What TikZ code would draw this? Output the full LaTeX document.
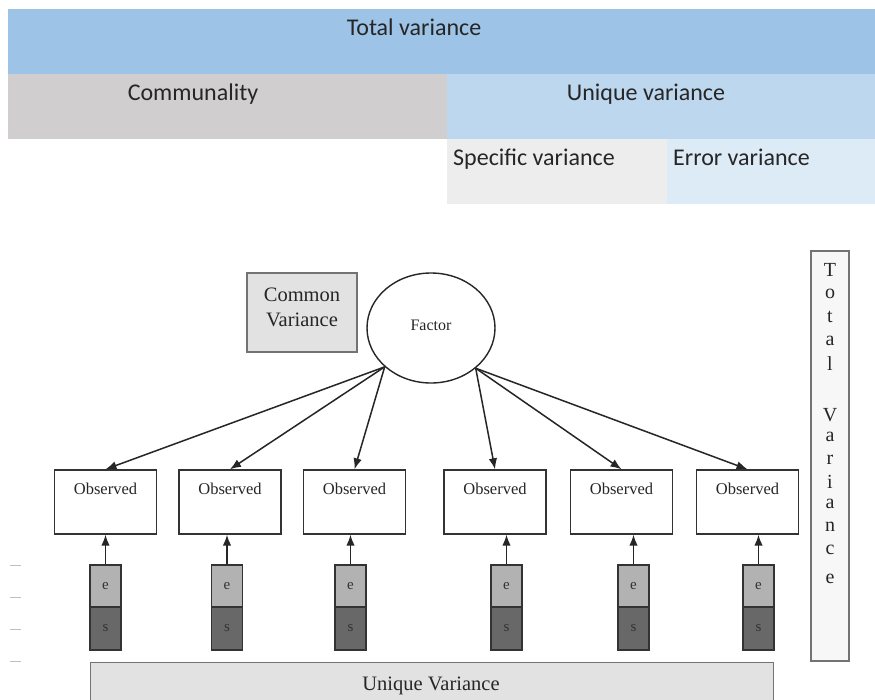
\documentclass[tikz,border=0pt]{standalone}
\usepackage{fontspec}
\setmainfont{Liberation Serif}
\newfontfamily\calfont{Carlito}
\usetikzlibrary{arrows.meta,shapes.geometric}
\definecolor{ctotal}{HTML}{9DC3E6}
\definecolor{ccomm}{HTML}{D0CECE}
\definecolor{cuniq}{HTML}{BDD7EE}
\definecolor{cspec}{HTML}{EDEDED}
\definecolor{cerr}{HTML}{DDEBF7}
\definecolor{cbox}{HTML}{E2E2E2}
\definecolor{cedge}{HTML}{333333}
\definecolor{ce}{HTML}{B2B2B2}
\definecolor{cs}{HTML}{686868}
\tikzset{
  cell/.style={draw=none, inner sep=0pt, anchor=north west},
  celltext/.style={font=\calfont\fontsize{24}{28}\selectfont, text=black!85, anchor=base, inner sep=0pt},
  obsbox/.style={draw=cedge, line width=1.4pt, fill=white, minimum width=102pt, minimum height=64pt, inner sep=0pt},
  obstext/.style={font=\fontsize{16.5}{19}\selectfont, text=black!85, anchor=base, inner sep=0pt},
  ebox/.style={draw=cedge, line width=1.3pt, fill=ce, minimum width=31pt, minimum height=42pt, inner sep=0pt, font=\fontsize{15}{16}\selectfont, text=black!80},
  sbox/.style={draw=cedge, line width=1.3pt, fill=cs, minimum width=31pt, minimum height=43pt, inner sep=0pt, font=\fontsize{15}{16}\selectfont, text=black!80},
  arr/.style={-{Latex[length=11pt,width=8.5pt]}, line width=1.5pt, draw=black!85},
  grayedge/.style={draw=black!55, line width=1.3pt},
  vletter/.style={font=\fontsize{20}{22}\selectfont, text=black!85, inner sep=0pt},
  tick/.style={draw=black!25, line width=1pt}
}
\begin{document}
\begin{tikzpicture}[x=1pt,y=-1pt]
\useasboundingbox (0,0) rectangle (875,699);
\clip (0,0) rectangle (875,699);
\fill[white] (0,0) rectangle (875,699);
% ---- top table
\node[cell, fill=ctotal, minimum width=867pt, minimum height=65pt] (tv) at (8,9) {};
\node[cell, fill=ccomm, minimum width=439pt, minimum height=65pt] (com) at (8,74) {};
\node[cell, fill=cuniq, minimum width=428pt, minimum height=65pt] (uv) at (447,74) {};
\node[cell, fill=cspec, minimum width=220pt, minimum height=65pt] (sv) at (447,139) {};
\node[cell, fill=cerr, minimum width=208pt, minimum height=65pt] (ev) at (667,139) {};
\node[celltext] (tvt) at (414,35) {Total variance};
\node[celltext] (comt) at (193,100) {Communality};
\node[celltext] (uvt) at (646,100) {Unique variance};
\node[celltext, anchor=base west] (svt) at (453,165) {Specific variance};
\node[celltext, anchor=base west] (evt) at (673,165) {Error variance};
% ---- common variance and factor
\node[grayedge, fill=cbox, minimum width=110pt, minimum height=79pt, inner sep=0pt] (cv) at (302,312.5) {};
\node[align=center, inner sep=0pt, font=\fontsize{20.5}{25}\selectfont, text=black!85] (cvt) at (302,307) {Common\\Variance};
\node[ellipse, draw=black!85, line width=1.4pt, fill=white, minimum width=128pt, minimum height=110pt, inner sep=0pt,
      font=\fontsize{16}{18}\selectfont, text=black!85] (f) at (431,328) {\raisebox{6pt}{Factor}};
% ---- total variance vertical box
\node[grayedge, fill=black!3, minimum width=38pt, minimum height=410pt, inner sep=0pt] (tvb) at (830,456) {};
\foreach \ch/\yy [count=\k] in {T/270,o/294,t/317,a/341,l/364,V/415,a/437,r/460,i/482,a/504,n/527,c/550,e/579}
  \node[vletter] (tvl\k) at (830,\yy) {\ch};
% ---- observed boxes
\foreach \k/\cx/\bx in {1/105.5/105.5, 2/230/227, 3/354.5/350.5, 4/495/506.5, 5/621.5/633.5, 6/747.5/758.5}{
  \node[obsbox] (o\k) at (\cx,502) {};
  \node[obstext] (ot\k) at (\cx,494) {Observed};
  \node[ebox] (e\k) at (\bx,586) {e};
  \node[sbox] (s\k) at (\bx,628.5) {s};
  \draw[arr] (e\k.north) -- (o\k.south -| e\k.north);
}
% ---- factor loadings
\draw[arr] (f.220) -- (o1.north);
\draw[arr] (f.220) -- (o2.north);
\draw[arr] (f.220) -- (o3.north);
\draw[arr] (f.318) -- (o4.north);
\draw[arr] (f.318) -- (o5.north);
\draw[arr] (f.318) -- (o6.north);
% ---- unique variance bar
\node[grayedge, fill=cbox, minimum width=683pt, minimum height=44pt, inner sep=0pt, anchor=north west] (uvb) at (90,662) {};
\node[font=\fontsize{20.5}{24}\selectfont, text=black!85, anchor=base, inner sep=0pt] (uvbt) at (431,690) {Unique Variance};
% ---- left ticks
\foreach \yy [count=\k] in {565,597,629,661}{
  \coordinate (ta\k) at (10,\yy);
  \coordinate (tb\k) at (21,\yy);
  \draw[tick] (ta\k) -- (tb\k);
}
\end{tikzpicture}
\end{document}
